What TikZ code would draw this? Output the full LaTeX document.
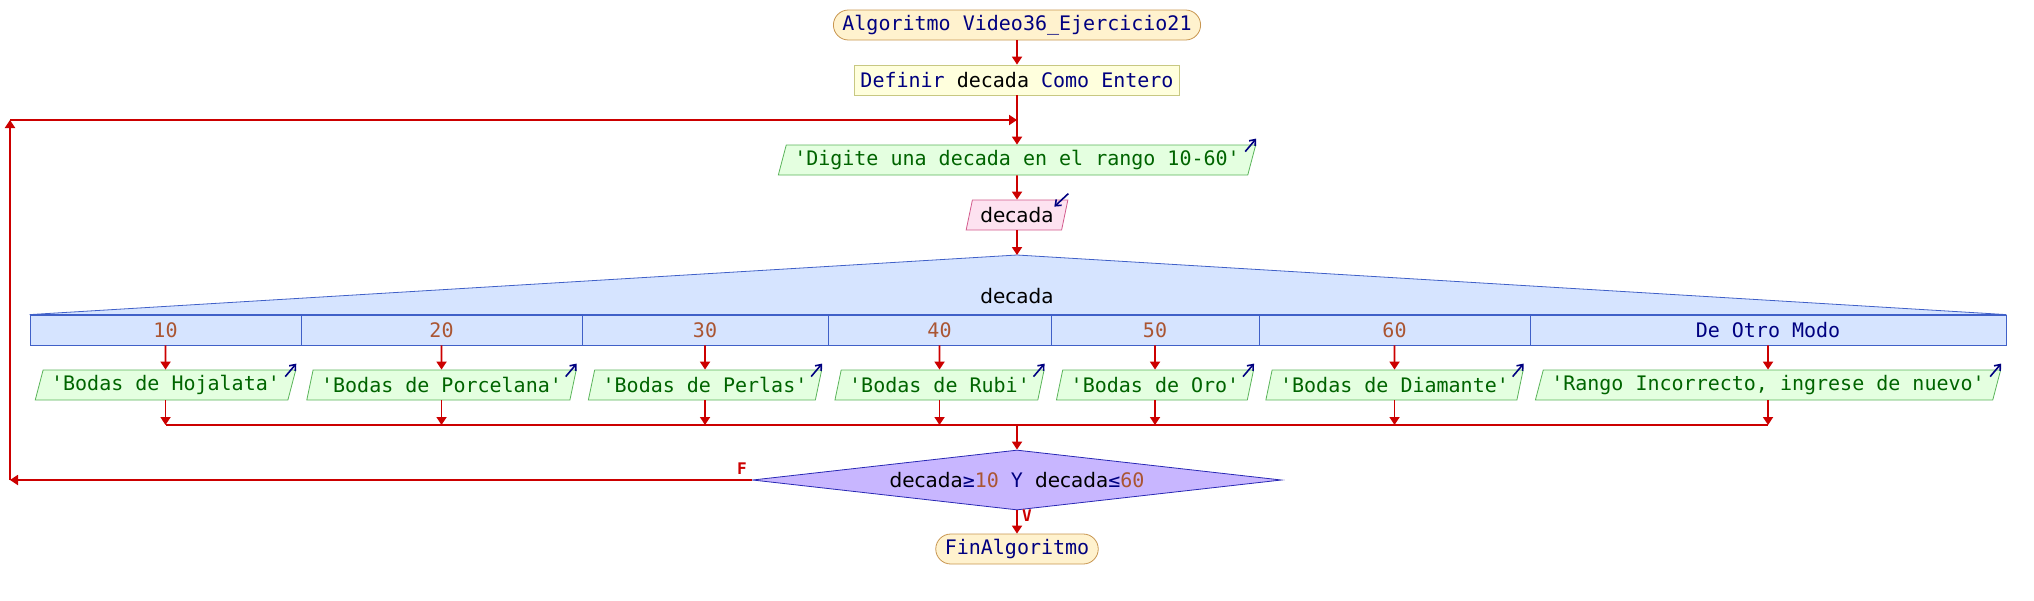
\documentclass[tikz,border=0pt]{standalone}
\usepackage{fontspec}
\setmainfont{DejaVu Sans}
\newfontfamily\monofont{DejaVu Sans Mono}
\usetikzlibrary{shapes.geometric,arrows.meta,calc}

\definecolor{flecha}{RGB}{204,0,0}
\definecolor{clave}{RGB}{0,0,128}
\definecolor{cadena}{RGB}{0,100,0}
\definecolor{numero}{RGB}{170,85,50}
\definecolor{termfill}{RGB}{255,242,206}
\definecolor{termline}{RGB}{200,150,80}
\definecolor{deffill}{RGB}{255,255,221}
\definecolor{defline}{RGB}{200,200,130}
\definecolor{escfill}{RGB}{228,255,224}
\definecolor{escline}{RGB}{90,180,90}
\definecolor{leefill}{RGB}{253,226,240}
\definecolor{leeline}{RGB}{210,90,140}
\definecolor{segfill}{RGB}{214,228,255}
\definecolor{segline}{RGB}{64,96,200}
\definecolor{sifill}{RGB}{200,182,255}
\definecolor{siline}{RGB}{40,40,180}

\newcommand\cm{\textquotesingle}

\tikzset{
  flujo/.style={draw=flecha, line width=0.9pt, -{Triangle[width=5pt,length=4pt]}},
  linea/.style={draw=flecha, line width=0.9pt},
  terminal/.style={draw=termline, fill=termfill, rounded corners=7.5pt, minimum height=15pt,
    inner xsep=4.5pt, inner ysep=0pt, font=\monofont, text=clave},
  defbox/.style={draw=defline, fill=deffill, minimum height=15pt, inner xsep=3pt, inner ysep=0pt, font=\monofont},
  escribir/.style={trapezium, trapezium left angle=68, trapezium right angle=112, trapezium stretches=true,
    draw=escline, fill=escfill, minimum height=15pt, inner xsep=4pt, inner ysep=0pt, font=\monofont, text=cadena},
  leer/.style={trapezium, trapezium left angle=68, trapezium right angle=112, trapezium stretches=true,
    draw=leeline, fill=leefill, minimum height=15pt, inner xsep=4pt, inner ysep=0pt},
  caso/.style={draw=segline, fill=segfill, minimum height=15pt, inner sep=0pt, font=\monofont, text=numero},
  condicion/.style={diamond, draw=siline, fill=sifill, minimum width=264.5pt, minimum height=30pt,
    inner sep=0pt, aspect=8.8},
  icono/.style={draw=clave, line width=0.8pt, -{Straight Barb[length=2.5pt,width=4pt]}},
  etiq/.style={text=flecha, font=\monofont\bfseries\footnotesize}
}

\begin{document}
\begin{tikzpicture}[x=0.5pt,y=-0.5pt]
  \useasboundingbox (0,0) rectangle (2034,600);

  % inicio y definicion
  \node[terminal] (inicio) at (1017,25) {Algoritmo Video36\_Ejercicio21};
  \node[defbox] (definir) at (1017,80) {{\color{clave}Definir} decada {\color{clave}Como Entero}};

  % entrada de datos
  \node[escribir] (pedir) at (1017,160) {\cm Digite una decada en el rango 10-60\cm};
  \node[leer] (leer) at (1017,215) {decada};

  % segun
  \coordinate (apex) at (1017,255);
  \node[caso, minimum width=135.5pt] (c1) at (165.5,330) {10};
  \node[caso, minimum width=140.5pt] (c2) at (441.5,330) {20};
  \node[caso, minimum width=123pt] (c3) at (705,330) {30};
  \node[caso, minimum width=111.5pt] (c4) at (939.5,330) {40};
  \node[caso, minimum width=104pt] (c5) at (1155,330) {50};
  \node[caso, minimum width=135.5pt] (c6) at (1394.5,330) {60};
  \node[caso, minimum width=238pt, text=clave] (c7) at (1768,330) {De Otro Modo};
  \draw[segline, fill=segfill] (c1.north west) -- (apex) -- (c7.north east) -- cycle;
  \node (selector) at (1017,296) {decada};

  % salidas de cada caso
  \node[escribir] (o1) at (165.5,385) {\cm Bodas de Hojalata\cm};
  \node[escribir] (o2) at (441.5,385) {\cm Bodas de Porcelana\cm};
  \node[escribir] (o3) at (705,385) {\cm Bodas de Perlas\cm};
  \node[escribir] (o4) at (939.5,385) {\cm Bodas de Rubi\cm};
  \node[escribir] (o5) at (1155,385) {\cm Bodas de Oro\cm};
  \node[escribir] (o6) at (1394.5,385) {\cm Bodas de Diamante\cm};
  \node[escribir] (o7) at (1768,385) {\cm Rango Incorrecto, ingrese de nuevo\cm};

  % condicion y fin
  \node[condicion] (cond) at (1017,480) {decada{\monofont\color{clave}≥}{\monofont\color{numero}10}{\monofont\color{clave}~Y~}decada{\monofont\color{clave}≤}{\monofont\color{numero}60}};
  \node[terminal] (fin) at (1017,549) {FinAlgoritmo};

  \coordinate (junta) at (1017,425);
  \coordinate (abajo) at (10,480);
  \coordinate (arriba) at (10,120);
  \coordinate (entrada) at (1017,120);

  % flechas
  \draw[flujo] (inicio) -- (definir);
  \draw[flujo] (definir) -- (pedir);
  \draw[flujo] (pedir) -- (leer);
  \draw[flujo] (leer) -- (apex);
  \draw[flujo] (c1.south) -- (o1.north);
  \draw[flujo] (c2.south) -- (o2.north);
  \draw[flujo] (c3.south) -- (o3.north);
  \draw[flujo] (c4.south) -- (o4.north);
  \draw[flujo] (c5.south) -- (o5.north);
  \draw[flujo] (c6.south) -- (o6.north);
  \draw[flujo] (c7.south) -- (o7.north);
  \draw[flujo] (o1.south) -- (o1.south |- junta);
  \draw[flujo] (o2.south) -- (o2.south |- junta);
  \draw[flujo] (o3.south) -- (o3.south |- junta);
  \draw[flujo] (o4.south) -- (o4.south |- junta);
  \draw[flujo] (o5.south) -- (o5.south |- junta);
  \draw[flujo] (o6.south) -- (o6.south |- junta);
  \draw[flujo] (o7.south) -- (o7.south |- junta);
  \draw[linea] (o1.south |- junta) -- (o7.south |- junta);
  \draw[flujo] (junta) -- (cond.north);
  \draw[flujo] (cond.south) -- (fin.north);
  \draw[flujo] (cond.west) -- (abajo);
  \draw[flujo] (abajo) -- (arriba);
  \draw[flujo] (arriba) -- (entrada);
  \node[etiq] (falso) at (742,469) {F};
  \node[etiq] (verdad) at (1027,516) {V};

  % iconos de entrada/salida
  \draw[icono] ($(pedir.top right corner)+(-11,7)$) -- ($(pedir.top right corner)+(0,-6)$);
  \draw[icono] ($(leer.top right corner)+(0,-6)$) -- ($(leer.top right corner)+(-14,7)$);
  \draw[icono] ($(o1.top right corner)+(-11,7)$) -- ($(o1.top right corner)+(0,-6)$);
  \draw[icono] ($(o2.top right corner)+(-11,7)$) -- ($(o2.top right corner)+(0,-6)$);
  \draw[icono] ($(o3.top right corner)+(-11,7)$) -- ($(o3.top right corner)+(0,-6)$);
  \draw[icono] ($(o4.top right corner)+(-11,7)$) -- ($(o4.top right corner)+(0,-6)$);
  \draw[icono] ($(o5.top right corner)+(-11,7)$) -- ($(o5.top right corner)+(0,-6)$);
  \draw[icono] ($(o6.top right corner)+(-11,7)$) -- ($(o6.top right corner)+(0,-6)$);
  \draw[icono] ($(o7.top right corner)+(-11,7)$) -- ($(o7.top right corner)+(0,-6)$);
\end{tikzpicture}
\end{document}
